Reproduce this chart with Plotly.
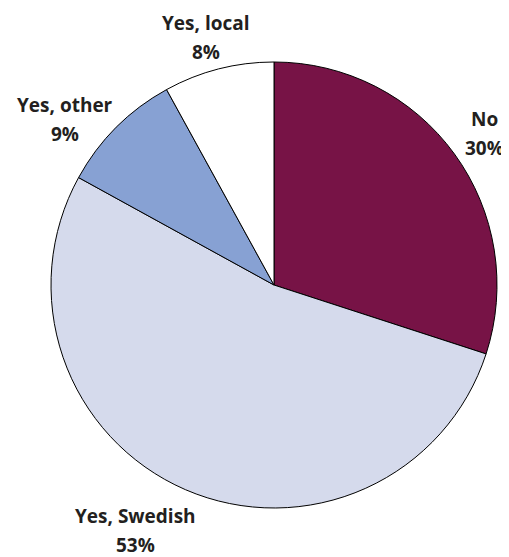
import plotly.graph_objects as go

categories = ["No", "Yes, Swedish", "Yes, other", "Yes, local"]
values = [30, 53, 9, 8]
value_labels = ["30%", "53%", "9%", "8%"]
colors = ["#771346", "#D5DAEC", "#87A1D3", "#FFFFFF"]

OFF = 8  # page body margin offset
W, H = 509 - OFF, 557 - OFF
cx, cy, r = 274 - OFF, 285 - OFF, 223

fig = go.Figure(go.Pie(
    labels=categories, values=values, sort=False, direction="clockwise",
    rotation=0, marker=dict(colors=colors, line=dict(color="#000000", width=1)),
    textinfo="none", hoverinfo="label+percent", showlegend=False,
    domain=dict(x=[(cx - r) / W, (cx + r) / W], y=[(H - cy - r) / H, (H - cy + r) / H]),
))

# label positions (screen pixels, centre of first line)
label_pos = {"No": (484, 119), "Yes, Swedish": (136, 516), "Yes, other": (65, 105), "Yes, local": (206, 23)}
annotations = []
for cat, val in zip(categories, value_labels):
    x, y = label_pos[cat]
    x -= OFF
    y -= OFF
    for i, t in enumerate([cat, val]):
        annotations.append(dict(
            x=x / W, y=1 - (y + i * 29) / H, xref="paper", yref="paper",
            text="<b>%s</b>" % t, showarrow=False, xanchor="center", yanchor="middle",
            font=dict(family="Open Sans", size=19, color="#231F20"),
        ))

fig.update_layout(width=W, height=H, margin=dict(l=0, r=0, t=0, b=0),
                  paper_bgcolor="white", plot_bgcolor="white", annotations=annotations)
fig.write_html("out.html")
